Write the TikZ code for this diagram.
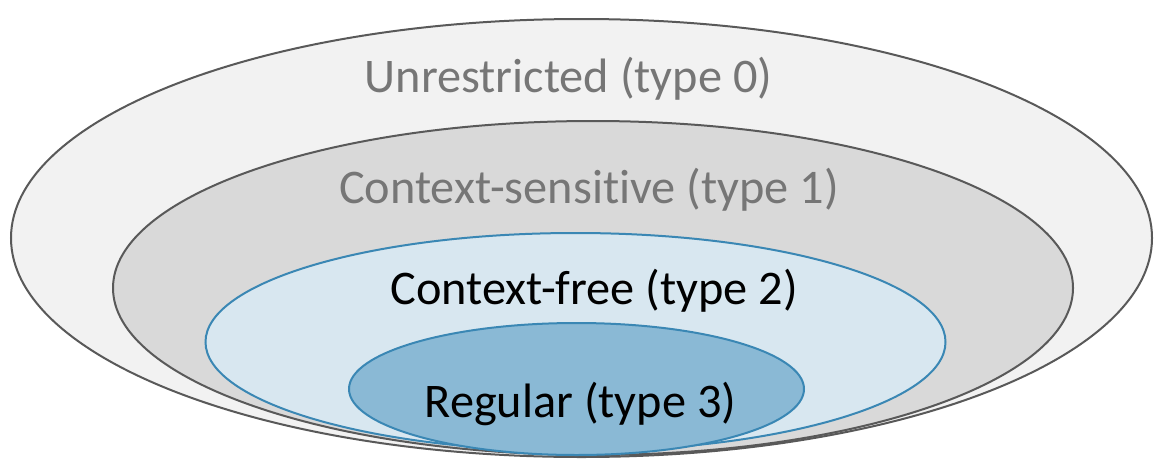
\documentclass[tikz,border=0pt]{standalone}
\usepackage{fontspec}
\setmainfont{Carlito}[Ligatures=NoCommon]
\usetikzlibrary{shapes.geometric}
\definecolor{ringline}{HTML}{595959}
\definecolor{bluline}{HTML}{3A87B4}
\definecolor{fillzero}{HTML}{F2F2F2}
\definecolor{fillone}{HTML}{D9D9D9}
\definecolor{filltwo}{HTML}{D8E7F0}
\definecolor{fillthree}{HTML}{8AB9D5}
\definecolor{greytext}{HTML}{767676}
\begin{document}
\begin{tikzpicture}[x=1pt,y=-1pt,
  classring/.style={ellipse, draw, line width=2pt, inner sep=0pt, outer sep=0pt},
  classlabel/.style={anchor=base, inner sep=0pt, font=\fontsize{48.3}{54}\selectfont}]
\useasboundingbox (0,0) rectangle (1155,463);
% nested language classes, outermost first
\node[classring, draw=ringline, fill=fillzero, minimum width=1141pt, minimum height=438pt] (t0) at (581.5,238) {};
\node[classring, draw=ringline, fill=fillone, minimum width=960pt, minimum height=334pt] (t1) at (593,288) {};
\node[classring, draw=bluline, fill=filltwo, minimum width=740pt, minimum height=218pt] (t2) at (575.5,342) {};
\node[classring, draw=bluline, fill=fillthree, minimum width=455pt, minimum height=132pt] (t3) at (576.5,389) {};
% class names
\node[classlabel, text=greytext] (l0) at (568.5,92) {Unrestricted (type 0)};
\node[classlabel, text=greytext] (l1) at (589,203) {Context-sensitive (type 1)};
\node[classlabel, text=black] (l2) at (594,304) {Context-free (type 2)};
\node[classlabel, text=black] (l3) at (580.5,417) {Regular (type 3)};
\end{tikzpicture}
\end{document}
